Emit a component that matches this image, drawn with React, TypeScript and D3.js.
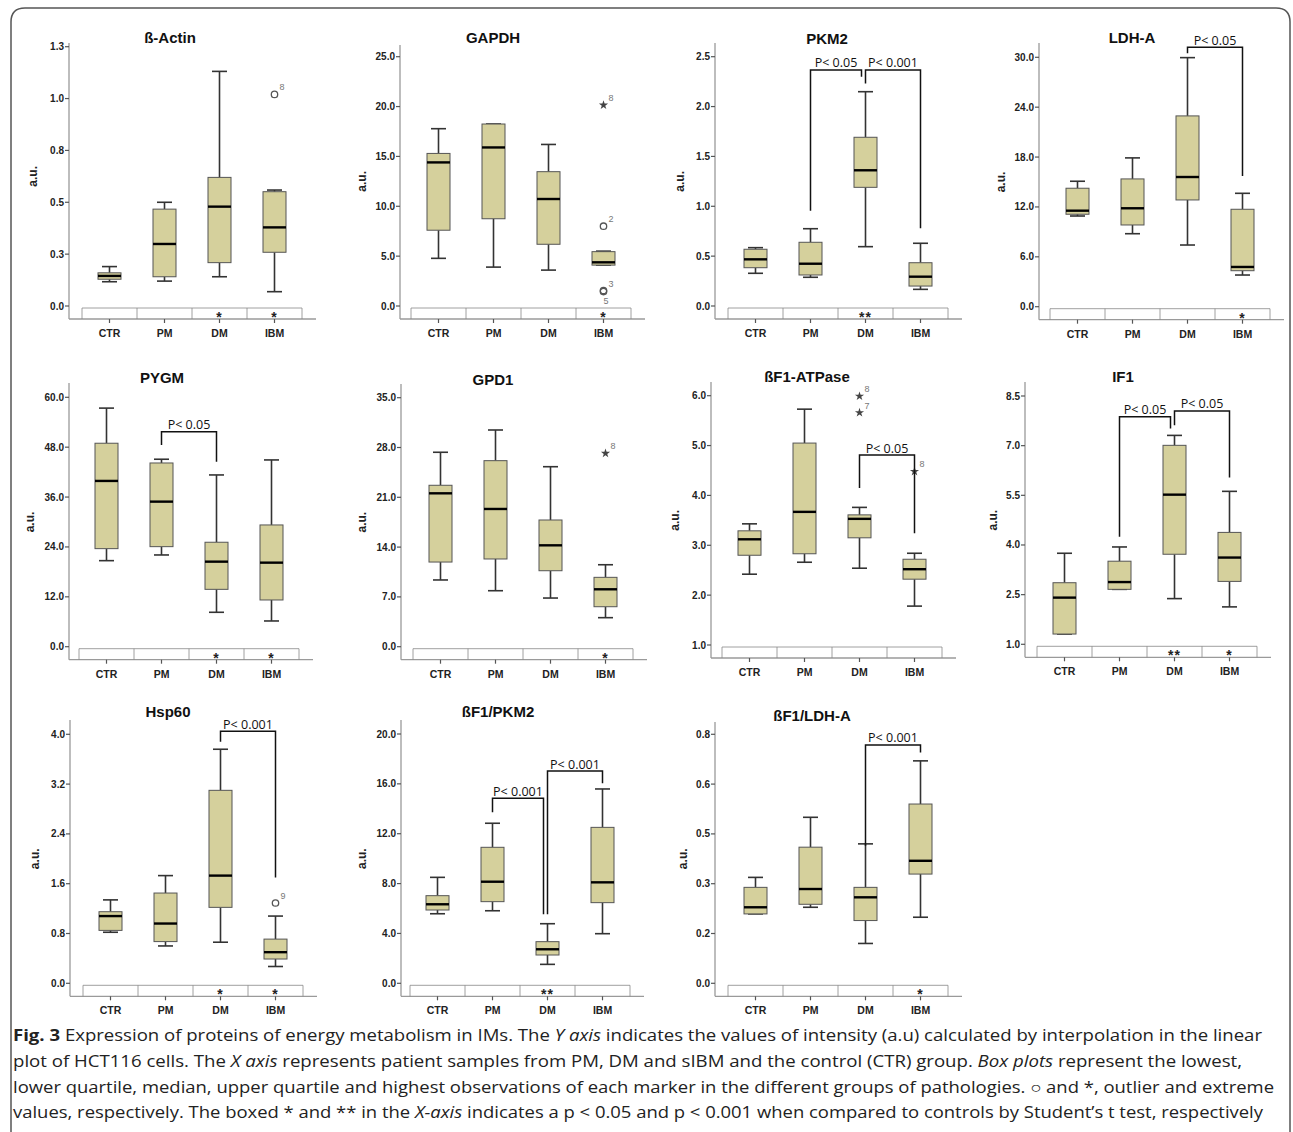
import React from 'react';
import * as d3 from 'd3';

// ---------------- DATA ----------------
const groups = ['CTR', 'PM', 'DM', 'IBM'];

const markerNames = ['ß-Actin', 'GAPDH', 'PKM2', 'LDH-A', 'PYGM', 'GPD1', 'ßF1-ATPase', 'IF1', 'Hsp60', 'ßF1/PKM2', 'ßF1/LDH-A'];

// tick values and their printed labels (SPSS rounding)
const actinTicks = [0, 0.25, 0.5, 0.75, 1.0, 1.25];
const actinTickLabels = ['0.0', '0.3', '0.5', '0.8', '1.0', '1.3'];
const gapdhTicks = [0, 5, 10, 15, 20, 25];
const pkm2Ticks = [0, 0.5, 1.0, 1.5, 2.0, 2.5];
const ldhaTicks = [0, 6, 12, 18, 24, 30];
const pygmTicks = [0, 12, 24, 36, 48, 60];
const gpd1Ticks = [0, 7, 14, 21, 28, 35];
const atpaseTicks = [1, 2, 3, 4, 5, 6];
const if1Ticks = [1, 2.5, 4, 5.5, 7, 8.5];
const hsp60Ticks = [0, 0.8, 1.6, 2.4, 3.2, 4.0];
const f1pkm2Ticks = [0, 4, 8, 12, 16, 20];
const f1ldhaTicks = [0, 0.15, 0.3, 0.45, 0.6, 0.75];
const f1ldhaTickLabels = ['0.0', '0.2', '0.3', '0.5', '0.6', '0.8'];

// box stats per group: [min, q1, median, q3, max]  (CTR, PM, DM, IBM)
const actinBoxes = [[0.117, 0.129, 0.145, 0.16, 0.19], [0.12, 0.141, 0.299, 0.467, 0.50], [0.141, 0.209, 0.479, 0.62, 1.131], [0.069, 0.259, 0.379, 0.551, 0.559]];
const gapdhBoxes = [[4.78, 7.6, 14.4, 15.3, 17.78], [3.9, 8.75, 15.9, 18.25, 18.25], [3.6, 6.19, 10.73, 13.47, 16.2], [4.1, 4.1, 4.38, 5.45, 5.5]];
const pkm2Boxes = [[0.328, 0.384, 0.468, 0.569, 0.585], [0.288, 0.311, 0.424, 0.639, 0.775], [0.595, 1.19, 1.361, 1.692, 2.149], [0.167, 0.2, 0.294, 0.434, 0.629]];
const ldhaBoxes = [[10.91, 11.12, 11.55, 14.25, 15.09], [8.78, 9.83, 11.84, 15.37, 17.9], [7.42, 12.84, 15.6, 22.95, 29.96], [3.81, 4.33, 4.78, 11.72, 13.64]];
const pygmBoxes = [[20.7, 23.59, 39.88, 48.95, 57.4], [22.07, 24.07, 34.9, 44.2, 45.1], [8.28, 13.8, 20.46, 25.13, 41.32], [6.19, 11.24, 20.22, 29.29, 44.93]];
const gpd1Boxes = [[9.38, 11.9, 21.56, 22.69, 27.33], [7.87, 12.33, 19.36, 26.15, 30.46], [6.84, 10.68, 14.25, 17.81, 25.3], [4.08, 5.62, 8.07, 9.75, 11.52]];
const atpaseBoxes = [[2.42, 2.80, 3.12, 3.29, 3.43], [2.66, 2.83, 3.67, 5.05, 5.73], [2.54, 3.15, 3.53, 3.61, 3.76], [1.78, 2.32, 2.52, 2.72, 2.84]];
const if1Boxes = [[1.31, 1.31, 2.41, 2.86, 3.75], [2.66, 2.66, 2.88, 3.51, 3.94], [2.38, 3.72, 5.52, 7.01, 7.31], [2.13, 2.90, 3.62, 4.38, 5.62]];
const hsp60Boxes = [[0.82, 0.85, 1.08, 1.15, 1.34], [0.60, 0.67, 0.96, 1.45, 1.73], [0.66, 1.22, 1.73, 3.10, 3.76], [0.27, 0.39, 0.50, 0.71, 1.08]];
const f1pkm2Boxes = [[5.58, 5.88, 6.34, 7.03, 8.50], [5.82, 6.55, 8.15, 10.91, 12.84], [1.52, 2.27, 2.73, 3.34, 4.78], [3.98, 6.47, 8.10, 12.51, 15.59]];
const f1ldhaBoxes = [[0.209, 0.209, 0.229, 0.289, 0.319], [0.229, 0.238, 0.284, 0.41, 0.50], [0.12, 0.189, 0.259, 0.289, 0.42], [0.199, 0.329, 0.369, 0.54, 0.67]];

// outliers (o) and extremes (*)
const actinOutliers = [{ g: 'IBM', v: 1.02, kind: 'o', label: '8', pos: 'above' }];
const gapdhOutliers = [
  { g: 'IBM', v: 20.15, kind: '*', label: '8', pos: 'above' },
  { g: 'IBM', v: 8.0, kind: 'o', label: '2', pos: 'above' },
  { g: 'IBM', v: 1.55, kind: 'o', label: '3', pos: 'above' },
  { g: 'IBM', v: 1.45, kind: 'o', label: '5', pos: 'below' },
];
const gpd1Outliers = [{ g: 'IBM', v: 27.18, kind: '*', label: '8', pos: 'above' }];
const atpaseOutliers = [
  { g: 'DM', v: 5.99, kind: '*', label: '8', pos: 'above' },
  { g: 'DM', v: 5.66, kind: '*', label: '7', pos: 'above' },
  { g: 'IBM', v: 4.48, kind: '*', label: '8', pos: 'above' },
];
const hsp60Outliers = [{ g: 'IBM', v: 1.29, kind: 'o', label: '9', pos: 'above' }];

// significance marks vs control (boxed on the x axis)
const actinSig = ['', '', '*', '*'];
const gapdhSig = ['', '', '', '*'];
const pkm2Sig = ['', '', '**', ''];
const ldhaSig = ['', '', '', '*'];
const pygmSig = ['', '', '*', '*'];
const gpd1Sig = ['', '', '', '*'];
const atpaseSig = ['', '', '', ''];
const if1Sig = ['', '', '**', '*'];
const hsp60Sig = ['', '', '*', '*'];
const f1pkm2Sig = ['', '', '**', ''];
const f1ldhaSig = ['', '', '', '*'];

// pairwise comparison brackets (values in data units)
const pkm2Brackets = [
  { from: 'PM', to: 'DM', top: 2.367, left: 0.956, right: 2.30, label: 'P< 0.05' },
  { from: 'DM', to: 'IBM', top: 2.367, left: 2.23, right: 0.78, label: 'P< 0.001' },
];
const ldhaBrackets = [{ from: 'DM', to: 'IBM', top: 31.2, left: 30.5, right: 15.73, label: 'P< 0.05' }];
const pygmBrackets = [{ from: 'PM', to: 'DM', top: 51.7, left: 48.5, right: 44.5, label: 'P< 0.05' }];
const atpaseBrackets = [{ from: 'DM', to: 'IBM', top: 4.81, left: 4.15, right: 3.24, label: 'P< 0.05' }];
const if1Brackets = [
  { from: 'PM', to: 'DM', top: 7.87, left: 4.25, right: 7.52, label: 'P< 0.05' },
  { from: 'DM', to: 'IBM', top: 8.05, left: 7.62, right: 6.04, label: 'P< 0.05' },
];
const hsp60Brackets = [{ from: 'DM', to: 'IBM', top: 4.05, left: 3.88, right: 1.70, label: 'P< 0.001' }];
const f1pkm2Brackets = [
  { from: 'PM', to: 'DM', top: 14.84, left: 13.72, right: 5.54, label: 'P< 0.001' },
  { from: 'DM', to: 'IBM', top: 17.03, left: 5.54, right: 16.04, label: 'P< 0.001' },
];
const f1ldhaBrackets = [{ from: 'DM', to: 'IBM', top: 0.718, left: 0.414, right: 0.695, label: 'P< 0.001' }];

const fmt1 = (v: number) => v.toFixed(1);

const panelData = [
  { boxes: actinBoxes, ticks: actinTicks, tickLabels: actinTickLabels, outliers: actinOutliers, sig: actinSig, brackets: [] },
  { boxes: gapdhBoxes, ticks: gapdhTicks, tickLabels: gapdhTicks.map(fmt1), outliers: gapdhOutliers, sig: gapdhSig, brackets: [] },
  { boxes: pkm2Boxes, ticks: pkm2Ticks, tickLabels: pkm2Ticks.map(fmt1), outliers: [], sig: pkm2Sig, brackets: pkm2Brackets },
  { boxes: ldhaBoxes, ticks: ldhaTicks, tickLabels: ldhaTicks.map(fmt1), outliers: [], sig: ldhaSig, brackets: ldhaBrackets },
  { boxes: pygmBoxes, ticks: pygmTicks, tickLabels: pygmTicks.map(fmt1), outliers: [], sig: pygmSig, brackets: pygmBrackets },
  { boxes: gpd1Boxes, ticks: gpd1Ticks, tickLabels: gpd1Ticks.map(fmt1), outliers: gpd1Outliers, sig: gpd1Sig, brackets: [] },
  { boxes: atpaseBoxes, ticks: atpaseTicks, tickLabels: atpaseTicks.map(fmt1), outliers: atpaseOutliers, sig: atpaseSig, brackets: atpaseBrackets },
  { boxes: if1Boxes, ticks: if1Ticks, tickLabels: if1Ticks.map(fmt1), outliers: [], sig: if1Sig, brackets: if1Brackets },
  { boxes: hsp60Boxes, ticks: hsp60Ticks, tickLabels: hsp60Ticks.map(fmt1), outliers: hsp60Outliers, sig: hsp60Sig, brackets: hsp60Brackets },
  { boxes: f1pkm2Boxes, ticks: f1pkm2Ticks, tickLabels: f1pkm2Ticks.map(fmt1), outliers: [], sig: f1pkm2Sig, brackets: f1pkm2Brackets },
  { boxes: f1ldhaBoxes, ticks: f1ldhaTicks, tickLabels: f1ldhaTickLabels, outliers: [], sig: f1ldhaSig, brackets: f1ldhaBrackets },
];

// ---------------- LAYOUT (pixel geometry per panel) ----------------
const layouts = [
  { axisX: 69, minY: 306, maxY: 46.7, axisTop: 43, sigLeft: 82, titleX: 170, titleY: 43, yLabelX: 33 },
  { axisX: 400, minY: 306, maxY: 56.7, axisTop: 45, sigLeft: 411, titleX: 493, titleY: 43, yLabelX: 362 },
  { axisX: 715, minY: 306, maxY: 56.7, axisTop: 43, sigLeft: 728, titleX: 827, titleY: 44, yLabelX: 680 },
  { axisX: 1039, minY: 306.7, maxY: 57.3, axisTop: 43, sigLeft: 1050, titleX: 1132, titleY: 43, yLabelX: 1001 },
  { axisX: 69, minY: 646.7, maxY: 397.3, axisTop: 383, sigLeft: 79, titleX: 162, titleY: 383, yLabelX: 30 },
  { axisX: 401, minY: 646.7, maxY: 397.7, axisTop: 384, sigLeft: 413, titleX: 493, titleY: 385, yLabelX: 362 },
  { axisX: 711, minY: 645, maxY: 395.7, axisTop: 382, sigLeft: 722, titleX: 807, titleY: 382, yLabelX: 675 },
  { axisX: 1025, minY: 644.3, maxY: 396, axisTop: 382, sigLeft: 1037, titleX: 1123, titleY: 382, yLabelX: 993 },
  { axisX: 70, minY: 983.3, maxY: 734.3, axisTop: 720, sigLeft: 83, titleX: 168, titleY: 717, yLabelX: 35 },
  { axisX: 401, minY: 983.3, maxY: 734, axisTop: 720, sigLeft: 410, titleX: 498, titleY: 717, yLabelX: 362 },
  { axisX: 715, minY: 983.3, maxY: 734.3, axisTop: 722, sigLeft: 728, titleX: 812, titleY: 721, yLabelX: 683 },
];

const BOX_FILL = '#d5d09c';
const AXIS = '#9a9a9a';
const SANS = '"Liberation Sans", Arial, sans-serif';

function Panel({ name, data, lay }: any) {
  const bandW = 220;
  const x = d3.scaleBand().domain(groups).range([lay.sigLeft, lay.sigLeft + bandW]);
  const cx = (g: string) => (x(g) as number) + x.bandwidth() / 2;
  const t0 = data.ticks[0];
  const t1 = data.ticks[data.ticks.length - 1];
  const y = d3.scaleLinear().domain([t0, t1]).range([lay.minY, lay.maxY]);
  const sigTop = lay.minY + 2;
  const axisBottom = lay.minY + 13;
  const xRight = lay.sigLeft + bandW + 14;
  const boxW = 23;
  const capW = 15;
  const starPath = d3.symbol(d3.symbolStar, 26)() as string;

  return (
    <g>
      <text x={lay.titleX} y={lay.titleY} textAnchor="middle" fontFamily={SANS} fontWeight="bold" fontSize={15} fill="#111">{name}</text>
      {/* y axis */}
      <line x1={lay.axisX} x2={lay.axisX} y1={lay.axisTop} y2={axisBottom} stroke={AXIS} strokeWidth={1.3} />
      {data.ticks.map((t: number, i: number) => (
        <g key={i}>
          <line x1={lay.axisX - 4} x2={lay.axisX} y1={y(t)} y2={y(t)} stroke="#555" strokeWidth={1.2} />
          <text x={lay.axisX - 5} y={y(t) + 3.5} textAnchor="end" fontFamily={SANS} fontWeight="bold" fontSize={10} fill="#222">{data.tickLabels[i]}</text>
        </g>
      ))}
      <text transform={`translate(${lay.yLabelX + 4},${(lay.minY + lay.maxY) / 2}) rotate(-90)`} textAnchor="middle" fontFamily={SANS} fontWeight="bold" fontSize={12} fill="#222">a.u.</text>
      {/* x axis + significance cells */}
      <line x1={lay.axisX} x2={xRight} y1={axisBottom} y2={axisBottom} stroke={AXIS} strokeWidth={1.3} />
      <line x1={lay.sigLeft} x2={lay.sigLeft + bandW} y1={sigTop} y2={sigTop} stroke="#888" strokeWidth={0.8} />
      {groups.map((g, i) => (
        <g key={g}>
          <line x1={x(g) as number} x2={x(g) as number} y1={sigTop} y2={axisBottom} stroke="#888" strokeWidth={0.8} />
          <line x1={cx(g)} x2={cx(g)} y1={axisBottom} y2={axisBottom + 4} stroke="#555" strokeWidth={1.2} />
          <text x={cx(g)} y={axisBottom + 18} textAnchor="middle" fontFamily={SANS} fontWeight="bold" fontSize={10.5} fill="#222">{g}</text>
          {data.sig[i] ? (
            <text x={cx(g)} y={sigTop + 14} textAnchor="middle" fontFamily={SANS} fontWeight="bold" fontSize={14} letterSpacing={1} fill="#222">{data.sig[i]}</text>
          ) : null}
        </g>
      ))}
      <line x1={lay.sigLeft + bandW} x2={lay.sigLeft + bandW} y1={sigTop} y2={axisBottom} stroke="#888" strokeWidth={0.8} />
      {/* boxes */}
      {groups.map((g, i) => {
        const [mn, q1, md, q3, mx] = data.boxes[i];
        const c = cx(g);
        return (
          <g key={g}>
            <line x1={c} x2={c} y1={y(mx)} y2={y(q3)} stroke="#333" strokeWidth={1.6} />
            <line x1={c} x2={c} y1={y(q1)} y2={y(mn)} stroke="#333" strokeWidth={1.6} />
            <line x1={c - capW / 2} x2={c + capW / 2} y1={y(mx)} y2={y(mx)} stroke="#333" strokeWidth={1.6} />
            <line x1={c - capW / 2} x2={c + capW / 2} y1={y(mn)} y2={y(mn)} stroke="#333" strokeWidth={1.6} />
            <rect x={c - boxW / 2} y={y(q3)} width={boxW} height={Math.max(1, y(q1) - y(q3))} fill={BOX_FILL} stroke="#555" strokeWidth={1} />
            <line x1={c - boxW / 2} x2={c + boxW / 2} y1={y(md)} y2={y(md)} stroke="#000" strokeWidth={2.4} />
          </g>
        );
      })}
      {/* outliers */}
      {data.outliers.map((o: any, i: number) => {
        const c = cx(o.g);
        const yy = y(o.v);
        const ly = o.pos === 'below' ? yy + 12 : yy - 4;
        return (
          <g key={i}>
            {o.kind === 'o' ? (
              <circle cx={c} cy={yy} r={3.2} fill="none" stroke="#555" strokeWidth={1.3} />
            ) : (
              <path d={starPath} transform={`translate(${c},${yy})`} fill="#444" />
            )}
            <text x={c + (o.pos === 'below' ? 0 : 5)} y={ly} fontFamily={SANS} fontSize={9} fill="#777">{o.label}</text>
          </g>
        );
      })}
      {/* comparison brackets */}
      {data.brackets.map((b: any, i: number) => {
        const shared = data.brackets.some((o: any) => o !== b && o.from === b.to);
        const xl = cx(b.from);
        const xr = cx(b.to) - (shared ? 4 : 0);
        const yt = y(b.top);
        return (
          <g key={i}>
            <path d={`M${xl},${y(b.left)}V${yt}H${xr}V${y(b.right)}`} fill="none" stroke="#111" strokeWidth={1.5} />
            <text x={(xl + xr) / 2} y={yt - 2.5} textAnchor="middle" fontFamily='"Open Sans", sans-serif' fontSize={12.5} fill="#111">{b.label}</text>
          </g>
        );
      })}
    </g>
  );
}

const captionFont = '"Open Sans", "Noto Sans", sans-serif';

export default function App() {
  return (
    <svg width={1293} height={1132} style={{ position: 'absolute', left: 0, top: 0, background: '#fff' }}>
      <rect x={0} y={0} width={1293} height={1132} fill="#fff" />
      <path d="M11,1140 V22 Q11,8 25,8 H1276 Q1290,8 1290,22 V1140" fill="none" stroke="#555" strokeWidth={1.5} />
      {markerNames.map((n, i) => (
        <Panel key={n} name={n} data={panelData[i]} lay={layouts[i]} />
      ))}
      <g fontFamily={captionFont} fontSize={16} fill="#222">
        <text x={13} y={1041} textLength={1249} lengthAdjust="spacingAndGlyphs">
          <tspan fontWeight="bold">Fig. 3</tspan>
          <tspan>{'  Expression of proteins of energy metabolism in IMs. The '}</tspan>
          <tspan fontStyle="italic">Y axis</tspan>
          <tspan>{' indicates the values of intensity (a.u) calculated by interpolation in the linear'}</tspan>
        </text>
        <text x={13} y={1067} textLength={1229} lengthAdjust="spacingAndGlyphs">
          <tspan>{'plot of HCT116 cells. The '}</tspan>
          <tspan fontStyle="italic">X axis</tspan>
          <tspan>{' represents patient samples from PM, DM and sIBM and the control (CTR) group. '}</tspan>
          <tspan fontStyle="italic">Box plots</tspan>
          <tspan>{' represent the lowest,'}</tspan>
        </text>
        <text x={13} y={1093} textLength={1261} lengthAdjust="spacingAndGlyphs">
          <tspan>{'lower quartile, median, upper quartile and highest observations of each marker in the different groups of pathologies. \u25CB and *, outlier and extreme'}</tspan>
        </text>
        <text x={13} y={1118} textLength={1250} lengthAdjust="spacingAndGlyphs">
          <tspan>{'values, respectively. The boxed * and ** in the '}</tspan>
          <tspan fontStyle="italic">X-axis</tspan>
          <tspan>{' indicates a p < 0.05 and p < 0.001 when compared to controls by Student\u2019s t test, respectively'}</tspan>
        </text>
      </g>
    </svg>
  );
}
